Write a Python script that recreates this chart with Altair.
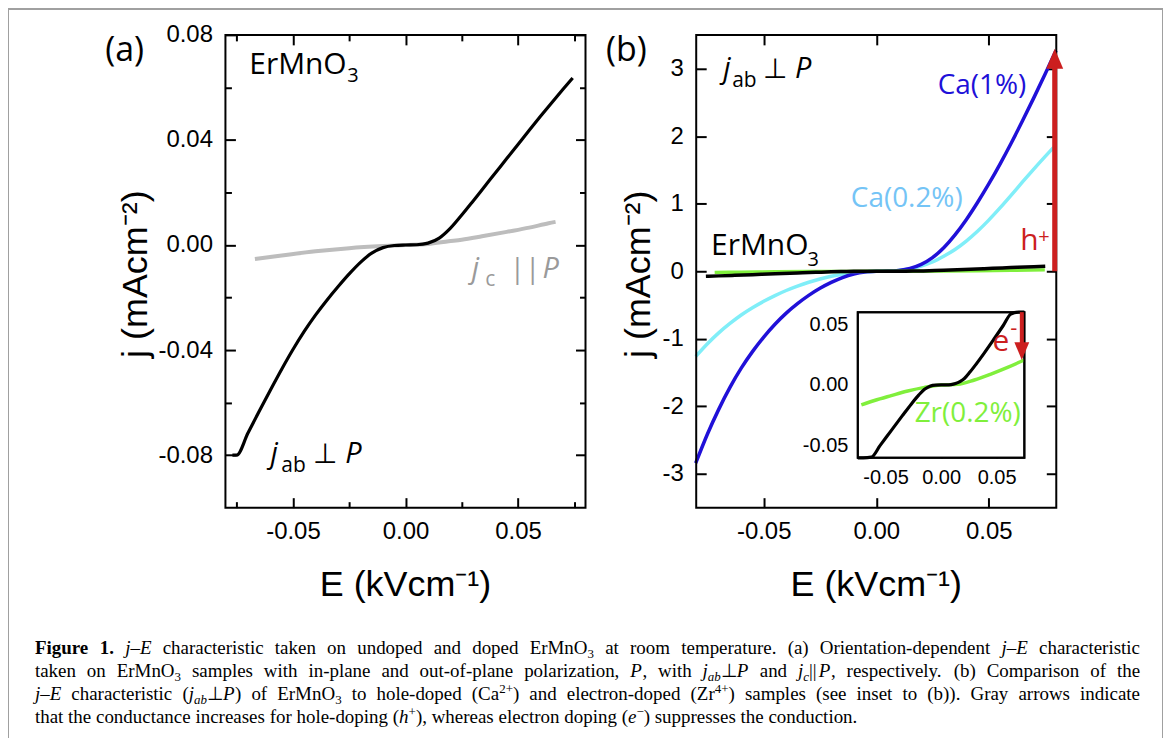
import re
import altair as alt
import pandas as pd

# ---------------- data ----------------
# ErMnO3, j_ab ⊥ P  (panel a)
E_AB = [-0.0769, -0.075, -0.070, -0.065, -0.060, -0.055, -0.050, -0.045, -0.040, -0.035,
        -0.030, -0.025, -0.020, -0.015, -0.010, -0.005, 0.0, 0.005, 0.010, 0.015, 0.020,
        0.025, 0.030, 0.035, 0.040, 0.045, 0.050, 0.055, 0.060, 0.065, 0.070, 0.0743]
J_AB = [-0.0800, -0.0800, -0.0716, -0.0633, -0.0552, -0.0473, -0.0398, -0.0329, -0.0267,
        -0.0211, -0.0159, -0.0110, -0.0066, -0.0031, -0.0010, -0.0002, 0.0, 0.0001, 0.0007,
        0.0026, 0.0064, 0.0114, 0.0167, 0.0221, 0.0275, 0.0329, 0.0383, 0.0437, 0.0490,
        0.0542, 0.0593, 0.0636]
# ErMnO3, j_c || P (gray, panel a)
E_C = [-0.0669, -0.0550, -0.0400, -0.0250, -0.0100, 0.0000, 0.0100, 0.0192, 0.0250,
       0.0340, 0.0450, 0.0550, 0.0636, 0.0667]
J_C = [-0.0053, -0.0040, -0.0024, -0.0012, -0.0004, 0.0000, 0.0004, 0.0014, 0.0020,
       0.0033, 0.0050, 0.0066, 0.0083, 0.0088]
# ErMnO3 (black, panel b and its inset)
E_B0 = [-0.0757, -0.0700, -0.0628, -0.0550, -0.0449, -0.0350, -0.0269, -0.0200, -0.0149,
        -0.0100, -0.0050, 0.0000, 0.0050, 0.0090, 0.0130, 0.0170, 0.0210, 0.0260, 0.0300,
        0.0390, 0.0480, 0.0560, 0.0628, 0.0700, 0.0751]
J_B0 = [-0.0755, -0.0683, -0.0595, -0.0500, -0.0376, -0.0255, -0.0158, -0.0082, -0.0036,
        -0.0010, -0.0001, 0.0000, 0.0000, 0.0003, 0.0012, 0.0028, 0.0053, 0.0106, 0.0153,
        0.0265, 0.0383, 0.0490, 0.0584, 0.0682, 0.0752]
# Ca(1%)
E_CA1 = [-0.0802, -0.075, -0.070, -0.065, -0.060, -0.055, -0.050, -0.045, -0.040, -0.035,
         -0.030, -0.025, -0.020, -0.015, -0.010, -0.005, 0.0, 0.005, 0.010, 0.015, 0.020,
         0.025, 0.030, 0.035, 0.040, 0.045, 0.050, 0.055, 0.060, 0.065, 0.070, 0.075, 0.0799]
J_CA1 = [-2.84, -2.41, -2.045, -1.72, -1.435, -1.19, -0.975, -0.785, -0.62, -0.48, -0.3575,
         -0.2525, -0.165, -0.0925, -0.04, -0.01, 0.0, 0.0025, 0.0125, 0.0425, 0.1025, 0.2025,
         0.3475, 0.5375, 0.7625, 1.0175, 1.2925, 1.5875, 1.90, 2.2275, 2.5675, 2.9175, 3.27]
# Ca(0.2%)
E_CA02 = [-0.0802, -0.075, -0.070, -0.065, -0.060, -0.055, -0.050, -0.045, -0.040, -0.035,
          -0.030, -0.025, -0.020, -0.015, -0.010, -0.005, 0.0, 0.005, 0.010, 0.015, 0.020,
          0.025, 0.030, 0.035, 0.040, 0.045, 0.050, 0.055, 0.060, 0.065, 0.070, 0.075, 0.0788]
J_CA02 = [-1.26, -1.0725, -0.9125, -0.7725, -0.6475, -0.54, -0.445, -0.36, -0.285, -0.22,
          -0.1625, -0.115, -0.075, -0.045, -0.0225, -0.0075, 0.0, 0.0025, 0.0125, 0.0375,
          0.0775, 0.1375, 0.2225, 0.3225, 0.4475, 0.5925, 0.7575, 0.9375, 1.1275, 1.3225,
          1.5125, 1.6975, 1.834]
# Zr(0.2%)
E_ZR = [-0.0718, -0.0600, -0.0449, -0.0300, -0.0149, 0.0000, 0.0150, 0.0300, 0.0449, 0.0599, 0.0749]
J_ZR = [-0.0164, -0.0128, -0.0088, -0.0050, -0.0020, 0.0000, 0.0005, 0.0041, 0.0090, 0.0145, 0.0206]

# axis domains and ticks
XA_DOM, YA_DOM = [-0.08, 0.08], [-0.1, 0.08]
XB_DOM, YB_DOM = [-0.08, 0.08], [-3.5, 3.5]
XI_DOM, YI_DOM = [-0.075, 0.075], [-0.06, 0.06]
A_XTICKS, A_XMINOR = [-0.05, 0.0, 0.05], [-0.075, -0.025, 0.025, 0.075]
A_YTICKS, A_YMINOR = [-0.08, -0.04, 0.0, 0.04, 0.08], [-0.06, -0.02, 0.02, 0.06]
B_XTICKS, B_YTICKS = [-0.05, 0.0, 0.05], [-3, -2, -1, 0, 1, 2, 3]
I_XTICKS, I_YTICKS = [-0.05, 0.0, 0.05], [-0.05, 0.0, 0.05]

# caption (*bold*, _italic_, ~subscript~, ^superscript^, {italic subscript})
CAPTION = [
    "*Figure* *1.* _j\u2013E_ characteristic taken on undoped and doped ErMnO~3~ at room temperature. (a) Orientation-dependent _j\u2013E_ characteristic",
    "taken on ErMnO~3~ samples with in-plane and out-of-plane polarization, _P_, with _j_{ab}\u22a5_P_ and _j_{c}||_P_, respectively. (b) Comparison of the",
    "_j\u2013E_ characteristic (_j_{ab}\u22a5_P_) of ErMnO~3~ to hole-doped (Ca^2+^) and electron-doped (Zr^4+^) samples (see inset to (b)). Gray arrows indicate",
    "that the conductance increases for hole-doping (_h_^+^), whereas electron doping (_e_^\u2212^) suppresses the conduction.",
]

# ---------------- layout / style ----------------
W, H = 1158, 731
FRAME = {"a": ([218, 579], [500, 26]), "b": ([690, 1051], [500, 26]), "i": ([852, 1019], [450, 304])}
DOMS = {"a": (XA_DOM, YA_DOM), "b": (XB_DOM, YB_DOM), "i": (XI_DOM, YI_DOM)}
AX_FONT, ANN_FONT, CAP_FONT = "Liberation Sans", "Open Sans", "Liberation Serif"
RED, BLUE, CYAN, CYAN_TXT, GREEN = "#cc1f1f", "#2010d8", "#80eef8", "#74c4f6", "#80ef3c"
CAP_X, CAP_W, CAP_Y = 27, 1108, [647, 670, 693, 716]
CAP_FS, CAP_SUB = 19, 13


def scales(p):
    (xd, yd), (xr, yr) = DOMS[p], FRAME[p]
    c = p == "i"
    return (alt.Scale(domain=xd, range=xr, nice=False, zero=False, clamp=c),
            alt.Scale(domain=yd, range=yr, nice=False, zero=False, clamp=c))


def axis(p, orient, values, size, labels=False, fmt=".2f", fs=24, pad=12):
    xr, yr = FRAME[p]
    if orient == "left":
        off = -(xr[0] + size)
    elif orient == "right":
        off = -(W - xr[1] + size)
    elif orient == "bottom":
        off = -(H - yr[0] + size)
    else:
        off = -(yr[1] + size)
    kw = dict(orient=orient, values=values, tickSize=size, tickWidth=2, tickColor="black",
              domain=False, grid=False, offset=off, title=None, labels=labels, labelFlush=False)
    if labels:
        kw.update(labelExpr="(datum.value < 0 ? '-' : '') + format(abs(datum.value), '%s')" % fmt,
                  labelFont=AX_FONT, labelFontSize=fs, labelColor="black", labelPadding=pad)
    return alt.Axis(**kw)


def line(p, E, J, color, width, xaxis=None, yaxis=None, opacity=1.0):
    xs, ys = scales(p)
    df = pd.DataFrame({"E": E, "J": J})
    return alt.Chart(df).mark_line(color=color, strokeWidth=width, interpolate="monotone",
                                   opacity=opacity).encode(
        x=alt.X("E:Q", scale=xs, axis=xaxis), y=alt.Y("J:Q", scale=ys, axis=yaxis))


def txt(p, x, y, s, size, color="black", italic=False, align="left", angle=0, font=ANN_FONT):
    xs, ys = scales(p)
    df = pd.DataFrame({"x": [x], "y": [y], "t": [s]})
    kw = dict(align=align, baseline="alphabetic", font=font, fontSize=size, color=color)
    if italic:
        kw["fontStyle"] = "italic"
    if angle:
        kw["angle"] = angle
    return alt.Chart(df).mark_text(**kw).encode(
        x=alt.X("x:Q", scale=xs, axis=None), y=alt.Y("y:Q", scale=ys, axis=None), text="t:N")


def frame(p, fill=None):
    xs, ys = scales(p)
    xd, yd = DOMS[p]
    df = pd.DataFrame({"x": [xd[0]], "x2": [xd[1]], "y": [yd[0]], "y2": [yd[1]]})
    kw = dict(stroke="black", strokeWidth=2)
    if fill:
        kw["fill"] = fill
    else:
        kw["fillOpacity"] = 0
    return alt.Chart(df).mark_rect(**kw).encode(
        x=alt.X("x:Q", scale=xs, axis=None), x2="x2:Q",
        y=alt.Y("y:Q", scale=ys, axis=None), y2="y2:Q")


def arrow(p, x, y0, y1, yh, shape, size, width):
    xs, ys = scales(p)
    shaft = alt.Chart(pd.DataFrame({"x": [x], "y": [y0], "y2": [y1]})).mark_rule(
        color=RED, strokeWidth=width).encode(
        x=alt.X("x:Q", scale=xs, axis=None), y=alt.Y("y:Q", scale=ys, axis=None), y2="y2:Q")
    head = alt.Chart(pd.DataFrame({"x": [x], "y": [yh]})).mark_point(
        shape=shape, size=size, filled=True, color=RED, opacity=1).encode(
        x=alt.X("x:Q", scale=xs, axis=None), y=alt.Y("y:Q", scale=ys, axis=None))
    return [shaft, head]


# ---- caption layout: Times-metric advance widths (per 1000 em) ----
TW = dict(zip("abcdefghijklmnopqrstuvwxyz",
              [444, 500, 444, 500, 444, 333, 500, 500, 278, 278, 500, 278, 778, 500, 500, 500,
               500, 333, 389, 278, 500, 500, 722, 500, 500, 444]))
TW.update(zip("ABCDEFGHIJKLMNOPQRSTUVWXYZ",
              [722, 667, 667, 722, 611, 556, 722, 722, 333, 389, 722, 611, 889, 722, 722, 556,
               722, 667, 556, 611, 722, 722, 944, 722, 722, 611]))
TW.update({" ": 250, "(": 333, ")": 333, ",": 250, "-": 333, ".": 250, "|": 260, "%": 833,
           "+": 564, "\u2013": 500, "\u2212": 564, "\u22a5": 840})
TW.update({d: 500 for d in "0123456789"})
TWI = {"a": 500, "E": 611, "P": 640, "m": 722, "k": 444}
TWB = {"F": 611, "u": 556, "r": 444, "e": 444}
TOK = re.compile(r"\*([^*]+)\*|_([^_]+)_|~([^~]+)~|\^([^^]+)\^|\{([^}]+)\}|([^*_~^{]+)")
STYLES = ("b", "i", "s", "p", "is", "n")
SHIFT = {"n": 0, "i": 0, "b": 0, "s": 4, "is": 4, "p": -7}


def parse(word):
    out = []
    for m in TOK.finditer(word):
        for st, g in zip(STYLES, m.groups()):
            if g:
                out.append((g, st))
    return out


def pwidth(text, st):
    size = CAP_SUB if st in ("s", "is", "p") else CAP_FS
    tab = TWI if st in ("i", "is") else (TWB if st == "b" else {})
    return sum(tab.get(c, TW.get(c, 500)) for c in text) / 1000.0 * size


rows = []
for li, ln in enumerate(CAPTION):
    words = [parse(w) for w in ln.split(" ")]
    widths = [sum(pwidth(t, s) for t, s in w) for w in words]
    gap = (CAP_W - sum(widths)) / (len(words) - 1) if li < 3 else 0.25 * CAP_FS
    x = CAP_X
    for w, wd in zip(words, widths):
        xx = x
        for t, s in w:
            rows.append({"x": xx, "y": CAP_Y[li] + SHIFT[s], "t": t, "s": s})
            xx += pwidth(t, s)
        x += wd + gap
cap_df = pd.DataFrame(rows)


def cap_layer(st):
    kw = dict(align="left", baseline="alphabetic", font=CAP_FONT, color="black",
              fontSize=CAP_SUB if st in ("s", "is", "p") else CAP_FS)
    if st in ("i", "is"):
        kw["fontStyle"] = "italic"
    if st == "b":
        kw["fontWeight"] = "bold"
    return alt.Chart(cap_df[cap_df.s == st]).mark_text(**kw).encode(
        x=alt.X("x:Q", scale=None), y=alt.Y("y:Q", scale=None), text="t:N")


layers = []
# ---- panel (a) ----
layers += [
    line("a", E_C, J_C, "#bdbdbd", 4,
         axis("a", "bottom", A_XTICKS, 10, True, pad=12), axis("a", "left", A_YTICKS, 10, True, pad=13)),
    line("a", E_AB, J_AB, "black", 3.2,
         axis("a", "top", A_XTICKS, 10), axis("a", "right", A_YTICKS, 10)),
    line("a", E_AB, J_AB, "black", 1, axis("a", "bottom", A_XMINOR, 6),
         axis("a", "left", A_YMINOR, 6), opacity=0),
    line("a", E_AB, J_AB, "black", 1, axis("a", "top", A_XMINOR, 6),
         axis("a", "right", A_YMINOR, 6), opacity=0),
    frame("a"),
    txt("a", -0.1248, 0.0701, "(a)", 34, align="center"),
    txt("a", -0.0694, 0.0652, "ErMnO", 30),
    txt("a", -0.0259, 0.0622, "3", 20),
    txt("a", -0.0600, -0.0829, "j", 29, italic=True),
    txt("a", -0.0552, -0.0863, "ab", 21),
    txt("a", -0.0410, -0.0829, "\u22a5", 28),
    txt("a", -0.0268, -0.0829, "P", 29, italic=True),
    txt("a", 0.0295, -0.0127, "j", 29, "#9a9a9a", italic=True),
    txt("a", 0.0354, -0.0157, "c", 21, "#9a9a9a"),
    txt("a", 0.0463, -0.0127, "||", 28, "#9a9a9a"),
    txt("a", 0.0609, -0.0127, "P", 29, "#9a9a9a", italic=True),
    txt("a", 0.0, -0.1338, "E (kVcm\u207b\u00b9)", 36, align="center", font=AX_FONT),
    txt("a", -0.1150, -0.0111, "j (mAcm\u207b\u00b2)", 36, align="center", angle=270, font=AX_FONT),
]
# ---- panel (b) ----
layers += [
    line("b", E_CA02, J_CA02, CYAN, 3.5,
         axis("b", "bottom", B_XTICKS, 10, True, pad=12),
         axis("b", "left", B_YTICKS, 10, True, fmt="d", pad=13)),
    line("b", E_CA1, J_CA1, BLUE, 3.5,
         axis("b", "top", B_XTICKS, 10), axis("b", "right", B_YTICKS, 10)),
    line("b", E_ZR, J_ZR, GREEN, 3.5),
    line("b", E_B0, J_B0, "black", 3.5),
    frame("b"),
]
layers += arrow("b", 0.0793, 0.0, 3.02, 3.146, "M0,-1L0.85,1L-0.85,1Z", 400, 5)
layers += [
    txt("b", -0.1110, 3.116, "(b)", 34, align="center"),
    txt("b", -0.0680, 2.865, "j", 29, italic=True),
    txt("b", -0.0640, 2.732, "ab", 21),
    txt("b", -0.0503, 2.865, "\u22a5", 28),
    txt("b", -0.0361, 2.865, "P", 29, italic=True),
    txt("b", 0.0273, 2.629, "Ca(1%)", 28, BLUE),
    txt("b", -0.0113, 0.945, "Ca(0.2%)", 28, CYAN_TXT),
    txt("b", 0.0640, 0.310, "h", 30, RED),
    txt("b", 0.0720, 0.4135, "+", 20, RED),
    txt("b", -0.0734, 0.236, "ErMnO", 30),
    txt("b", -0.0306, 0.074, "3", 20),
    txt("b", 0.0, -4.814, "E (kVcm\u207b\u00b9)", 36, align="center", font=AX_FONT),
    txt("b", -0.1004, -0.044, "j (mAcm\u207b\u00b2)", 36, align="center", angle=270, font=AX_FONT),
]
# ---- inset of (b) ----
layers += [
    frame("i", fill="white"),
    line("i", E_ZR, J_ZR, GREEN, 3.5,
         axis("i", "bottom", I_XTICKS, 9, True, fs=20, pad=10),
         axis("i", "left", I_YTICKS, 9, True, fs=20, pad=10)),
    line("i", E_B0, J_B0, "black", 3.2),
    frame("i"),
]
layers += arrow("i", 0.0727, 0.06, 0.0345, 0.0279, "M0,1L0.83,-1L-0.83,-1Z", 324, 4)
layers += [
    txt("i", -0.0238, -0.0304, "Zr(0.2%)", 28, GREEN),
    txt("i", 0.0463, 0.0279, "e", 30, RED),
    txt("i", 0.0624, 0.0411, "-", 22, RED),
]
# ---- caption ----
layers += [cap_layer(st) for st in STYLES if (cap_df.s == st).any()]
# ---- outer figure border ----
border = alt.Chart(pd.DataFrame({"a": [0]})).mark_rule(color="#a0a0a0", strokeWidth=2)
layers += [
    border.encode(x=alt.value(0), y=alt.value(0), y2=alt.value(H)),
    border.encode(x=alt.value(0), x2=alt.value(W), y=alt.value(0)),
    border.encode(x=alt.value(W), y=alt.value(0), y2=alt.value(H)),
]

chart = alt.layer(*layers).resolve_scale(x="independent", y="independent").resolve_axis(
    x="independent", y="independent").properties(
    width=W, height=H, autosize=alt.AutoSizeParams(type="none"), padding=0,
    background="white").configure_view(strokeWidth=0)

chart.save("out.html", embed_options={"renderer": "svg", "actions": False})
